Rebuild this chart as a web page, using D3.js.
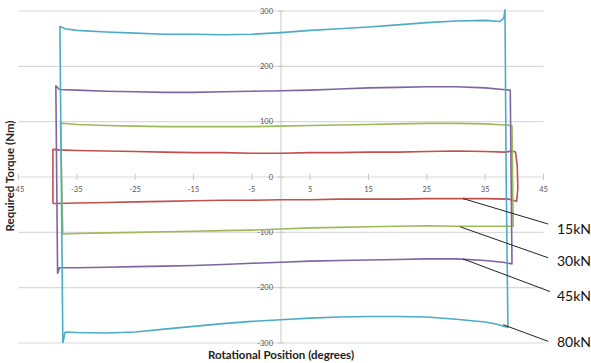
<!DOCTYPE html>
<html><head><meta charset="utf-8">
<script src="https://cdn.jsdelivr.net/npm/d3@7"></script>
<style>body{margin:0;background:#fff}svg{display:block}</style>
</head><body>
<svg id="c" width="591" height="363"></svg>
<script>
const xTicks = [-45,-35,-25,-15,-5,5,15,25,35,45];
const yTicks = [300,200,100,0,-100,-200,-300];
const seriesNames = ["15kN","30kN","45kN","80kN"];
const seriesColors = ["#c0504d","#9bbb59","#8064a2","#4bacc6"];

// closed loops: [degrees, torque]
const load15 = [[-39.1,-48],[-39.1,50],[-38,49],[-35,48],[-30,47],[-25,46],[-20,45],[-15,44],[-10,44],[-5,43],[0,43],[5,44],[10,44],[15,45],[20,45],[25,46],[30,47],[35,46],[38.5,45],[39.6,47],[40.2,45],[40.5,20],[40.6,-20],[40.4,-44],[39,-40],[35,-39],[30,-39],[25,-39],[20,-40],[15,-40],[10,-40],[5,-41],[0,-41],[-5,-42],[-10,-42],[-15,-43],[-20,-44],[-25,-45],[-30,-46],[-35,-47],[-38.5,-48],[-39.1,-48]];
const load30 = [[-37.4,-103],[-37.8,97],[-37.5,97],[-35,95],[-30,93],[-25,92],[-20,91],[-15,91],[-10,91],[-5,91],[0,92],[5,93],[10,94],[15,95],[20,96],[25,97],[30,97],[35,96],[38.5,94],[39.6,93],[39.8,-89],[35,-89],[30,-89],[25,-88],[20,-89],[15,-90],[10,-91],[5,-92],[0,-94],[-5,-96],[-10,-97],[-15,-98],[-20,-99],[-25,-100],[-30,-101],[-35,-102],[-37.4,-103]];
const load45 = [[-38.3,-175],[-38.6,165],[-38,158],[-35,157],[-30,155],[-25,154],[-20,153],[-15,153],[-10,154],[-5,155],[0,156],[5,157],[10,159],[15,161],[20,162],[25,163],[30,163],[35,161],[38,158],[39.3,157],[39.6,-157],[38,-154],[35,-151],[30,-148],[25,-148],[20,-149],[15,-150],[10,-151],[5,-152],[0,-154],[-5,-156],[-10,-158],[-15,-160],[-20,-161],[-25,-162],[-30,-163],[-35,-164],[-38,-164],[-38.3,-175]];
const load80 = [[-37.4,-300],[-37.9,272],[-37,268],[-35,265],[-30,262],[-25,260],[-20,258],[-15,258],[-10,257],[-5,258],[0,261],[5,265],[10,268],[15,271],[20,275],[25,279],[30,282],[35,283],[37.5,281],[38.2,287],[38.4,302],[38.6,0],[38.9,-272],[37,-266],[35,-262],[30,-257],[25,-253],[20,-252],[15,-252],[10,-253],[5,-255],[0,-258],[-5,-261],[-10,-265],[-15,-270],[-20,-275],[-25,-280],[-30,-282],[-35,-281],[-37,-280],[-37.4,-300]];
const seriesData = [load15, load30, load45, load80];

// leader lines: from point on curve to label (data space)
const leaderFrom = [[31.2,-39],[30.7,-90],[31.2,-148],[38.1,-267]];
const leaderTo = [[45.8,-85],[45.8,-146],[46.1,-207],[45.8,-297]];

const svg = d3.select("#c");
svg.append("rect").attr("width",591).attr("height",363).attr("fill","#fff");
const x = d3.scaleLinear().domain([-45,45]).range([18.5,543.5]);
const y = d3.scaleLinear().domain([-300,300]).range([343,11]);

svg.append("g").selectAll("line").data(yTicks).join("line")
  .attr("x1",x(-45)).attr("x2",x(45)).attr("y1",d=>y(d)).attr("y2",d=>y(d))
  .attr("stroke","#d9d9d9").attr("stroke-width",1.2);
svg.append("line").attr("x1",x(0)).attr("x2",x(0)).attr("y1",y(300)).attr("y2",y(-300))
  .attr("stroke","#d0d0d0").attr("stroke-width",1.2);
svg.append("g").selectAll("line").data(xTicks).join("line")
  .attr("x1",d=>x(d)).attr("x2",d=>x(d)).attr("y1",y(0)-3).attr("y2",y(0)+3)
  .attr("stroke","#c8c8c8").attr("stroke-width",1);
svg.append("g").selectAll("line").data(yTicks).join("line")
  .attr("x1",x(0)-3).attr("x2",x(0)+3).attr("y1",d=>y(d)).attr("y2",d=>y(d))
  .attr("stroke","#c8c8c8").attr("stroke-width",1);

const font = "Lato, 'Open Sans', sans-serif";
svg.append("g").selectAll("text").data(xTicks).join("text")
  .attr("x",d=>x(d)).attr("y",y(0)+15).attr("text-anchor","middle")
  .attr("font-family",font).attr("font-size",7.5).attr("fill","#555").text(d=>d);
svg.append("g").selectAll("text").data(yTicks).join("text")
  .attr("x",x(0)-8).attr("y",d=>y(d)+2.5).attr("text-anchor","end")
  .attr("font-family",font).attr("font-size",7.5).attr("fill","#555").text(d=>d);

const line = d3.line().x(d=>x(d[0])).y(d=>y(d[1]));
seriesData.forEach((s,i)=>{
  svg.append("path").attr("d",line(s)).attr("fill","none")
    .attr("stroke",seriesColors[i]).attr("stroke-width",1.6).attr("stroke-linejoin","round");
});

svg.append("g").selectAll("line").data(leaderFrom).join("line")
  .attr("x1",d=>x(d[0])).attr("y1",d=>y(d[1]))
  .attr("x2",(d,i)=>x(leaderTo[i][0])).attr("y2",(d,i)=>y(leaderTo[i][1]))
  .attr("stroke","#222").attr("stroke-width",1);
const labelBase = [234,266,301,347];
svg.append("g").selectAll("text").data(seriesNames).join("text")
  .attr("x",557).attr("y",(d,i)=>labelBase[i])
  .attr("font-family",font).attr("font-size",14).attr("fill","#111").text(d=>d);

svg.append("text").attr("x",x(0)).attr("y",358.5).attr("text-anchor","middle")
  .attr("font-family",font).attr("font-weight","bold").attr("font-size",11.5).attr("fill","#222")
  .text("Rotational Position (degrees)");
svg.append("text").attr("transform",`translate(14,${176}) rotate(-90)`).attr("text-anchor","middle")
  .attr("font-family",font).attr("font-weight","bold").attr("font-size",11.5).attr("fill","#222")
  .text("Required Torque (Nm)");
</script>
</body></html>
